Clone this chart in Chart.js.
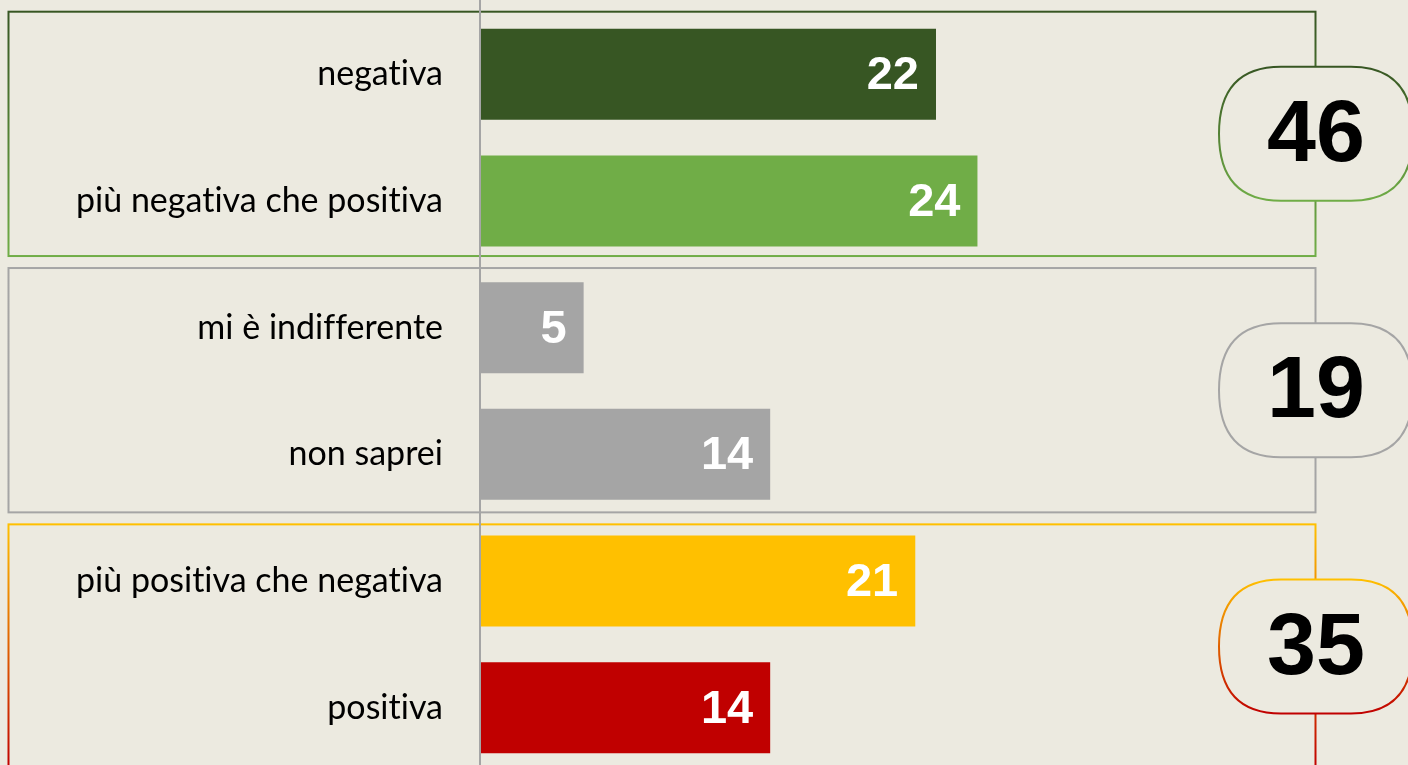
<!DOCTYPE html>
<html>
<head>
<meta charset="utf-8">
<script src="https://cdn.jsdelivr.net/npm/chart.js@4.4.1/dist/chart.umd.min.js"></script>
<style>
  html, body { margin: 0; padding: 0; background: #ECEAE0; overflow: hidden; }
  #wrap { width: 1408px; height: 771px; }
</style>
</head>
<body>
<div id="wrap"><canvas id="myChart"></canvas></div>
<script>
// data
var categories = ['negativa', 'più negativa che positiva', 'mi è indifferente', 'non saprei', 'più positiva che negativa', 'positiva'];
var values = [22, 24, 5, 14, 21, 14];
var barColors = ['#375623', '#70AD47', '#A5A5A5', '#A5A5A5', '#FFC000', '#C00000'];
var groupTotals = [46, 19, 35];
var groupColors = [['#375623', '#70AD47'], ['#A5A5A5', '#A5A5A5'], ['#FFC000', '#C00000']];

var bg = '#ECEAE0';

function vGrad(ctx, top, bottom, cols) {
    var g = ctx.createLinearGradient(0, top, 0, bottom);
    g.addColorStop(0, cols[0]);
    g.addColorStop(1, cols[1]);
    return g;
}

function pill(ctx, x, y, w, h, r) {
    ctx.beginPath();
    ctx.moveTo(x + r, y);
    ctx.lineTo(x + w - r, y);
    ctx.quadraticCurveTo(x + w, y, x + w, y + h / 2);
    ctx.quadraticCurveTo(x + w, y + h, x + w - r, y + h);
    ctx.lineTo(x + r, y + h);
    ctx.quadraticCurveTo(x, y + h, x, y + h / 2);
    ctx.quadraticCurveTo(x, y, x + r, y);
    ctx.closePath();
}

// vertical extent of the frame around a pair of categories
function groupBox(chart, g) {
    var area = chart.chartArea;
    var catH = (area.bottom - area.top) / categories.length;
    var top = area.top + 0.7 + g * (2 * catH + 3);
    return { top: top, bottom: top + 2 * catH - 9 };
}

var decorPlugin = {
    id: 'decor',
    beforeDraw: function(chart) {
        var ctx = chart.ctx;
        ctx.save();
        ctx.fillStyle = bg;
        ctx.fillRect(0, 0, chart.width, chart.height);
        ctx.lineWidth = 2;
        groupTotals.forEach(function(t, g) {
            var b = groupBox(chart, g);
            ctx.strokeStyle = vGrad(ctx, b.top, b.bottom, groupColors[g]);
            ctx.strokeRect(8.5, b.top, 1307, b.bottom - b.top);
        });
        ctx.restore();
        // avoid the "ti" ligature in tick labels
        ctx.letterSpacing = '0.01px';
    },
    afterDatasetsDraw: function(chart) {
        var ctx = chart.ctx;
        var meta = chart.getDatasetMeta(0);
        ctx.save();

        // axis line
        ctx.strokeStyle = '#A5A5A5';
        ctx.lineWidth = 2;
        ctx.beginPath();
        ctx.moveTo(480, 0);
        ctx.lineTo(480, chart.height);
        ctx.stroke();

        // value labels
        ctx.fillStyle = '#FFFFFF';
        ctx.font = 'bold 47px "Liberation Sans", Arial, sans-serif';
        ctx.textAlign = 'right';
        ctx.textBaseline = 'middle';
        meta.data.forEach(function(bar, i) {
            ctx.fillText(String(values[i]), bar.x - 17, bar.y + 2);
        });

        // group badges
        groupTotals.forEach(function(t, g) {
            var b = groupBox(chart, g);
            var cy = (b.top + b.bottom) / 2;
            var h = 134, w = 194;
            var bx = 1316 - w / 2, by = cy - h / 2;
            pill(ctx, bx, by, w, h, 62);
            ctx.fillStyle = bg;
            ctx.fill();
            ctx.lineWidth = 2;
            ctx.strokeStyle = vGrad(ctx, by, by + h, groupColors[g]);
            ctx.stroke();
            ctx.fillStyle = '#000000';
            ctx.font = 'bold 88px "Liberation Sans", Arial, sans-serif';
            ctx.textAlign = 'center';
            ctx.textBaseline = 'middle';
            ctx.fillText(String(t), 1316, cy + 3);
        });
        ctx.restore();
    }
};

var ctx = document.getElementById('myChart').getContext('2d');
var myChart = new Chart(ctx, {
    type: 'bar',
    data: {
        labels: categories,
        datasets: [{
            data: values,
            backgroundColor: barColors,
            borderWidth: 0,
            categoryPercentage: 1,
            barPercentage: 0.718
        }]
    },
    options: {
        indexAxis: 'y',
        responsive: true,
        maintainAspectRatio: false,
        animation: false,
        layout: { padding: { top: 11, right: 16, bottom: 0, left: 0 } },
        plugins: {
            legend: { display: false },
            tooltip: { enabled: false }
        },
        scales: {
            x: {
                display: false,
                min: 0,
                max: 44
            },
            y: {
                afterFit: function(scale) {
                    scale.width = 480;
                    scale.paddingTop = 0;
                    scale.paddingBottom = 0;
                },
                grid: { display: false, drawTicks: false },
                border: { display: false },
                ticks: {
                    padding: 37,
                    color: '#000000',
                    font: { family: 'Lato, "Open Sans", sans-serif', size: 34 }
                }
            }
        }
    },
    plugins: [decorPlugin]
});
</script>
</body>
</html>
